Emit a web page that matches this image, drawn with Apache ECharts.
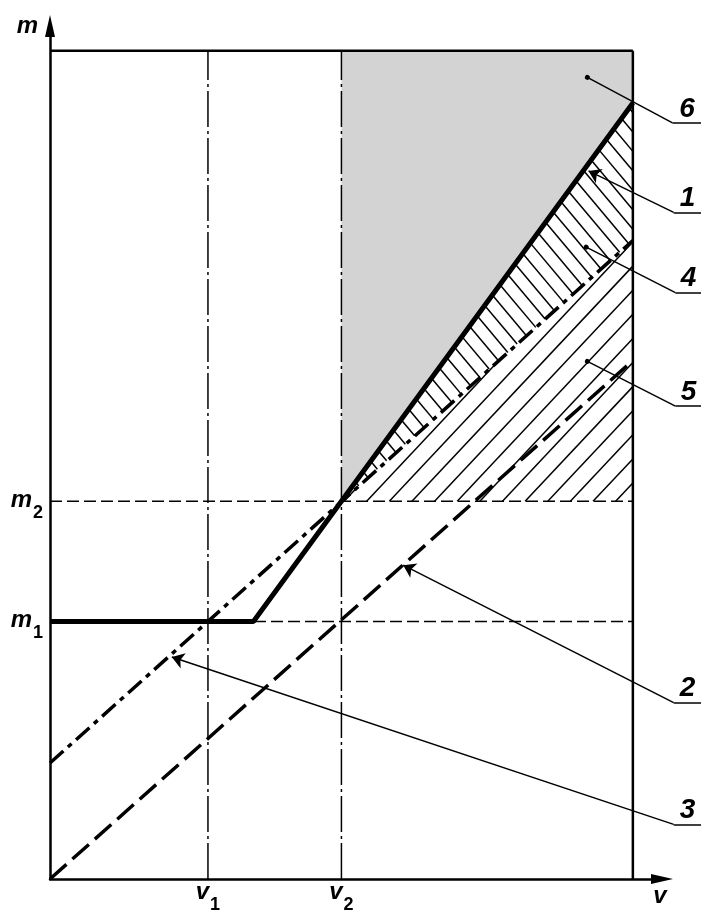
<!DOCTYPE html>
<html>
<head>
<meta charset="utf-8">
<script src="https://cdn.jsdelivr.net/npm/echarts@6/dist/echarts.min.js"></script>
<style>
  html, body { margin: 0; padding: 0; background: #fff; }
  #main { width: 701px; height: 914px; }
</style>
</head>
<body>
<div id="main"></div>
<script>
// 刻度（v、m 轴上的特征值）
const vTicks = [27.1, 50];
const vTickSubs = ['1', '2'];
const mTicks = [31.1, 45.6];
const mTickSubs = ['1', '2'];

// 曲线 1、2、3（v, m）
const line1 = [[0, 31.1], [34.9, 31.1], [100, 93.7]];
const line2 = [[0, 0], [100, 62.6]];
const line3 = [[0, 14.0], [100, 77.1]];

// 外框
const frameTop = [[0, 100], [100, 100]];
const frameRight = [[100, 0], [100, 100]];

// 区域 6（灰色）、4、5（阴影线）
const region6 = [[50, 45.6], [50, 100], [100, 100], [100, 93.7]];
const region4 = [[50, 45.6], [100, 93.7], [100, 77.1]];
const region5 = [[50, 45.6], [100, 77.1], [100, 45.6]];

// 引出线编号
const calloutNames = ['6', '1', '4', '5', '2', '3'];
const calloutAnchors = [[92.2, 96.8], [92.4, 85.5], [92.0, 76.3], [92.2, 62.5], [60.6, 37.9], [20.9, 26.8]];
const calloutElbows = [[106.8, 91.3], [107.0, 80.5], [107.3, 70.8], [107.3, 57.1], [107.0, 21.3], [107.0, 6.6]];
const calloutArrow = [false, true, false, false, true, true];
const calloutEnd = 111.8;

const FONT = "'Liberation Sans', Arial, sans-serif";

(function () {
    const my_echart = echarts.init(document.getElementById('main'));

    // 标签：斜体字母 + 下标
    const rich = {
        a: { fontSize: 24, fontStyle: 'italic', fontWeight: 'bold', fontFamily: FONT, color: '#000', lineHeight: 26, verticalAlign: 'top' },
        b: { fontSize: 18, fontWeight: 'bold', fontFamily: FONT, color: '#000', lineHeight: 18, verticalAlign: 'top', padding: [16, 0, 0, 1] }
    };

    // 把凸多边形按一定角度和间距填上阴影线（像素坐标）
    function hatch(pts, angle, gap) {
        const nx = -Math.sin(angle), ny = Math.cos(angle);
        const proj = pts.map(p => p[0] * nx + p[1] * ny);
        const cmin = Math.min.apply(null, proj), cmax = Math.max.apply(null, proj);
        const segs = [];
        for (let c = Math.ceil(cmin / gap) * gap; c < cmax; c += gap) {
            const hit = [];
            for (let i = 0; i < pts.length; i++) {
                const a = pts[i], b = pts[(i + 1) % pts.length];
                const da = proj[i] - c, db = proj[(i + 1) % pts.length] - c;
                if ((da < 0) !== (db < 0)) {
                    const t = da / (da - db);
                    hit.push([a[0] + (b[0] - a[0]) * t, a[1] + (b[1] - a[1]) * t]);
                }
            }
            if (hit.length >= 2) segs.push([hit[0], hit[1]]);
        }
        return segs;
    }

    function hatchSeries(region, angle, gap) {
        return {
            type: 'custom',
            data: [[0, 0]],
            silent: true,
            renderItem: function (params, api) {
                const pts = region.map(p => api.coord(p));
                const segs = hatch(pts, angle, gap);
                return {
                    type: 'group',
                    children: segs.map(s => ({
                        type: 'line',
                        shape: { x1: s[0][0], y1: s[0][1], x2: s[1][0], y2: s[1][1] },
                        style: { stroke: '#000', lineWidth: 1.5 }
                    }))
                };
            }
        };
    }

    function lineSeries(data, width, dash) {
        return {
            type: 'line',
            data: data,
            symbol: 'none',
            silent: true,
            lineStyle: { color: '#000', width: width, type: dash || 'solid', cap: 'butt' }
        };
    }

    const arrowIdx = calloutNames.map((n, i) => i).filter(i => calloutArrow[i]);
    const dotIdx = calloutNames.map((n, i) => i).filter(i => !calloutArrow[i]);

    let option = {
        backgroundColor: '#fff',
        animation: false,
        grid: { left: 50, right: 39, top: 26, bottom: 31 },
        xAxis: {
            type: 'value',
            min: 0,
            max: 105,
            name: 'v',
            nameLocation: 'end',
            nameGap: -2,
            nameTextStyle: {
                fontSize: 24, fontStyle: 'italic', fontWeight: 'bold', fontFamily: FONT, color: '#000',
                align: 'center', verticalAlign: 'top', padding: [5, 0, 0, 0]
            },
            axisLine: {
                show: true,
                symbol: ['none', 'triangle'],
                symbolSize: [10, 22],
                lineStyle: { color: '#000', width: 2.5 }
            },
            axisTick: { show: false },
            splitLine: { show: false },
            axisLabel: {
                customValues: vTicks,
                margin: 1,
                formatter: function (value) {
                    const i = vTicks.indexOf(value);
                    return '{a|v}{b|' + vTickSubs[i] + '}';
                },
                rich: rich
            }
        },
        yAxis: {
            type: 'value',
            min: 0,
            max: 103,
            name: 'm',
            nameLocation: 'end',
            nameGap: 0,
            nameTextStyle: {
                fontSize: 24, fontStyle: 'italic', fontWeight: 'bold', fontFamily: FONT, color: '#000',
                align: 'right', verticalAlign: 'middle', padding: [0, 12, 0, 0]
            },
            axisLine: {
                show: true,
                symbol: ['none', 'triangle'],
                symbolSize: [10, 22],
                lineStyle: { color: '#000', width: 2.5 }
            },
            axisTick: { show: false },
            splitLine: { show: false },
            axisLabel: {
                customValues: mTicks,
                margin: 7,
                formatter: function (value) {
                    const i = mTicks.indexOf(value);
                    return '{a|m}{b|' + mTickSubs[i] + '}';
                },
                rich: rich
            }
        },
        series: [
            // 区域 6
            {
                type: 'custom',
                data: [[0, 0]],
                silent: true,
                renderItem: function (params, api) {
                    return {
                        type: 'polygon',
                        shape: { points: region6.map(p => api.coord(p)) },
                        style: { fill: '#d3d3d3' }
                    };
                }
            },
            // 区域 4、5 的阴影线
            hatchSeries(region4, Math.PI * 50 / 180, 12.5),
            hatchSeries(region5, -Math.PI * 0.26, 16.5),
            // 辅助线
            lineSeries([[vTicks[0], 0], [vTicks[0], 100]], 1.5, [36, 4, 3, 4]),
            lineSeries([[vTicks[1], 0], [vTicks[1], 100]], 1.5, [36, 4, 3, 4]),
            lineSeries([[0, mTicks[0]], [100, mTicks[0]]], 1.5, [12, 5]),
            lineSeries([[0, mTicks[1]], [100, mTicks[1]]], 1.5, [12, 5]),
            // 外框
            lineSeries(frameTop, 2.5),
            lineSeries(frameRight, 2.5),
            // 曲线 2、3、1
            lineSeries(line2, 3.5, [22, 8]),
            lineSeries(line3, 3.5, [18, 6, 5, 6]),
            lineSeries(line1, 5),
            // 引出线（箭头）
            {
                type: 'lines',
                coordinateSystem: 'cartesian2d',
                clip: false,
                silent: true,
                symbol: ['arrow', 'none'],
                symbolSize: 12,
                lineStyle: { color: '#000', width: 1.5, opacity: 1 },
                data: arrowIdx.map(i => ({ coords: [calloutAnchors[i], calloutElbows[i]] }))
            },
            // 引出线（圆点）
            {
                type: 'lines',
                coordinateSystem: 'cartesian2d',
                clip: false,
                silent: true,
                symbol: ['circle', 'none'],
                symbolSize: 5,
                lineStyle: { color: '#000', width: 1.5, opacity: 1 },
                data: dotIdx.map(i => ({ coords: [calloutAnchors[i], calloutElbows[i]] }))
            },
            // 编号及下划线
            {
                type: 'lines',
                coordinateSystem: 'cartesian2d',
                clip: false,
                silent: true,
                symbol: 'none',
                lineStyle: { color: '#000', width: 1.5, opacity: 1 },
                label: {
                    show: true,
                    position: 'middle',
                    distance: 0,
                    formatter: '{b}',
                    fontSize: 28,
                    fontStyle: 'italic',
                    fontWeight: 'bold',
                    fontFamily: FONT,
                    color: '#000'
                },
                data: calloutNames.map((n, i) => ({
                    name: n,
                    coords: [calloutElbows[i], [calloutEnd, calloutElbows[i][1]]]
                }))
            }
        ]
    };
    my_echart.setOption(option);
    window.addEventListener("resize", function () {
        my_echart.resize();
    });
})();
</script>
</body>
</html>
